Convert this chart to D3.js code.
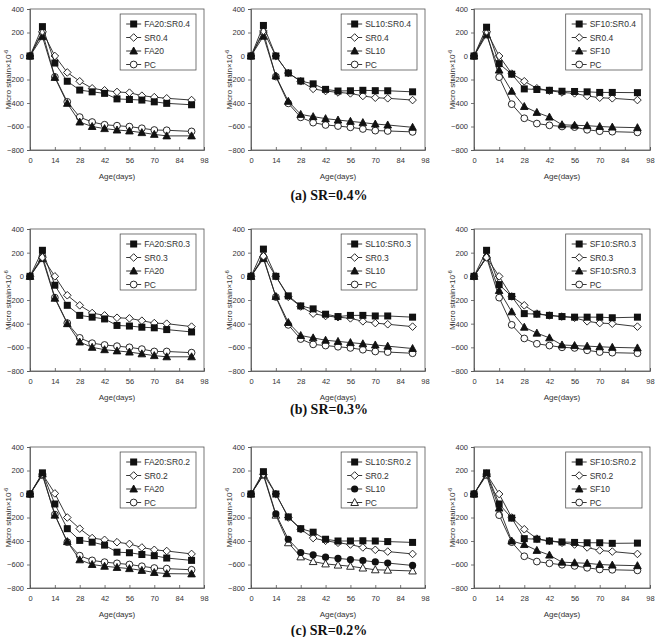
<!DOCTYPE html>
<html>
<head>
<meta charset="utf-8">
<script src="https://cdnjs.cloudflare.com/ajax/libs/d3/7.8.5/d3.min.js"></script>
<style>
  body { margin: 0; background: #fff; }
  text { font-family: "Liberation Sans", "DejaVu Sans", sans-serif; fill: #333; }
</style>
</head>
<body>
<div id="chart"></div>
<script>
// age in days (shared x values)
const ages = [0, 7, 14, 21, 28, 35, 42, 49, 56, 63, 70, 77, 91];
const xTicks = [0, 14, 28, 42, 56, 70, 84, 98];
const yTicks = [-800, -600, -400, -200, 0, 200, 400];

// (a) SR=0.4%
const p1Mix = [0, 250, -60, -215, -290, -305, -318, -365, -370, -375, -390, -403, -415];
const p1Fiber = [0, 210, 0, -140, -215, -275, -292, -306, -312, -338, -350, -360, -375];
const p1Admix = [0, 165, -182, -403, -562, -600, -618, -630, -638, -652, -667, -680, -680];
const p1Pc = [0, 200, -178, -390, -520, -562, -585, -593, -601, -615, -630, -632, -642];

const p2Mix = [0, 260, 0, -145, -213, -237, -284, -298, -296, -292, -295, -296, -305];
const p2Fiber = [0, 213, 0, -145, -215, -280, -298, -310, -318, -340, -355, -360, -375];
const p2Admix = [0, 168, -170, -386, -497, -516, -533, -545, -556, -567, -579, -587, -607];
const p2Pc = [0, 200, -175, -403, -522, -567, -587, -596, -607, -621, -635, -638, -646];

const p3Mix = [0, 245, -65, -155, -280, -285, -292, -300, -302, -305, -310, -310, -312];
const p3Fiber = [0, 210, 0, -150, -215, -275, -295, -310, -318, -340, -355, -360, -375];
const p3Admix = [0, 180, -120, -300, -430, -480, -520, -585, -590, -593, -600, -605, -610];
const p3Pc = [0, 200, -180, -410, -530, -575, -590, -600, -605, -628, -640, -644, -650];

// (b) SR=0.3%
const p4Mix = [0, 220, -75, -245, -330, -345, -360, -415, -420, -430, -435, -450, -470];
const p4Fiber = [0, 160, 0, -160, -245, -310, -330, -350, -355, -375, -395, -400, -425];
const p4Admix = [0, 150, -185, -400, -555, -600, -620, -630, -640, -655, -670, -680, -680];
const p4Pc = [0, 170, -180, -395, -520, -565, -580, -590, -600, -615, -635, -635, -645];

const p5Mix = [0, 230, 0, -165, -250, -275, -320, -340, -330, -330, -335, -335, -345];
const p5Fiber = [0, 170, 0, -173, -255, -315, -335, -345, -355, -380, -395, -405, -425];
const p5Admix = [0, 150, -170, -390, -500, -520, -540, -550, -560, -570, -580, -590, -610];
const p5Pc = [0, 160, -175, -410, -530, -575, -585, -595, -605, -620, -635, -640, -650];

const p6Mix = [0, 220, -70, -170, -315, -320, -330, -340, -345, -345, -345, -350, -345];
const p6Fiber = [0, 160, 0, -170, -245, -315, -331, -340, -350, -380, -395, -400, -425];
const p6Admix = [0, 170, -120, -300, -430, -480, -520, -580, -585, -590, -595, -600, -605];
const p6Pc = [0, 160, -180, -410, -525, -570, -585, -600, -605, -625, -640, -645, -650];

// (c) SR=0.2%
const p7Mix = [0, 180, -85, -295, -395, -410, -435, -495, -500, -515, -525, -545, -565];
const p7Fiber = [0, 170, 5, -200, -295, -375, -390, -410, -425, -455, -475, -485, -510];
const p7Admix = [0, 170, -180, -405, -560, -600, -615, -625, -635, -650, -668, -678, -680];
const p7Pc = [0, 160, -175, -410, -525, -565, -580, -590, -600, -615, -630, -635, -645];

const p8Mix = [0, 190, 0, -195, -295, -325, -385, -400, -400, -398, -400, -405, -412];
const p8Fiber = [0, 168, 0, -200, -300, -375, -398, -415, -430, -455, -475, -490, -510];
const p8Admix = [0, 170, -170, -385, -498, -518, -538, -548, -558, -566, -578, -588, -608];
const p8Pc = [0, 160, -180, -415, -535, -575, -595, -605, -615, -630, -645, -648, -655];

const p9Mix = [0, 180, -85, -205, -380, -385, -400, -408, -412, -415, -415, -420, -418];
const p9Fiber = [0, 170, 0, -200, -300, -380, -400, -415, -430, -455, -480, -490, -510];
const p9Admix = [0, 172, -120, -400, -430, -480, -520, -580, -585, -590, -600, -605, -610];
const p9Pc = [0, 160, -180, -410, -530, -575, -590, -602, -612, -628, -642, -645, -650];

// legend labels per panel
const labels1 = ["FA20:SR0.4", "SR0.4", "FA20", "PC"];
const labels2 = ["SL10:SR0.4", "SR0.4", "SL10", "PC"];
const labels3 = ["SF10:SR0.4", "SR0.4", "SF10", "PC"];
const labels4 = ["FA20:SR0.3", "SR0.3", "FA20", "PC"];
const labels5 = ["SL10:SR0.3", "SR0.3", "SL10", "PC"];
const labels6 = ["SF10:SR0.3", "SR0.3", "SF10:SR0.3", "PC"];
const labels7 = ["FA20:SR0.2", "SR0.2", "FA20", "PC"];
const labels8 = ["SL10:SR0.2", "SR0.2", "SL10", "PC"];
const labels9 = ["SF10:SR0.2", "SR0.2", "SF10", "PC"];

const captions = ["(a)  SR=0.4%", "(b)  SR=0.3%", "(c)  SR=0.2%"];

const svgWidth = 657;
const svgHeight = 637;

// plot area layout
const colLeft = [30, 251, 474];
const colRight = [204, 425, 650];
const rowTop = [9, 229, 447];
const rowBottom = [150, 371, 588];
const captionY = [200, 414, 635];

const defaultShapes = ["square", "diamond", "triangle", "circle"];

const panels = [
    { row: 0, col: 0, labels: labels1, series: [p1Mix, p1Fiber, p1Admix, p1Pc], shapes: defaultShapes },
    { row: 0, col: 1, labels: labels2, series: [p2Mix, p2Fiber, p2Admix, p2Pc], shapes: defaultShapes },
    { row: 0, col: 2, labels: labels3, series: [p3Mix, p3Fiber, p3Admix, p3Pc], shapes: defaultShapes },
    { row: 1, col: 0, labels: labels4, series: [p4Mix, p4Fiber, p4Admix, p4Pc], shapes: defaultShapes },
    { row: 1, col: 1, labels: labels5, series: [p5Mix, p5Fiber, p5Admix, p5Pc], shapes: defaultShapes },
    { row: 1, col: 2, labels: labels6, series: [p6Mix, p6Fiber, p6Admix, p6Pc], shapes: defaultShapes },
    { row: 2, col: 0, labels: labels7, series: [p7Mix, p7Fiber, p7Admix, p7Pc], shapes: defaultShapes },
    { row: 2, col: 1, labels: labels8, series: [p8Mix, p8Fiber, p8Admix, p8Pc], shapes: ["square", "diamond", "dot", "otriangle"] },
    { row: 2, col: 2, labels: labels9, series: [p9Mix, p9Fiber, p9Admix, p9Pc], shapes: defaultShapes }
];

var svg = d3.select("#chart")
    .append("svg")
    .attr("width", svgWidth)
    .attr("height", svgHeight)
    .style("background", "#fff");

// draw one marker at (x, y)
function drawMarker(g, shape, x, y) {
    var stroke = "#111";
    if (shape === "square") {
        g.append("rect").attr("x", x - 3.5).attr("y", y - 3.5)
            .attr("width", 7).attr("height", 7).attr("fill", stroke);
    } else if (shape === "diamond") {
        g.append("path").attr("d", `M${x},${y - 3.8}L${x + 3.8},${y}L${x},${y + 3.8}L${x - 3.8},${y}Z`)
            .attr("fill", "#fff").attr("stroke", stroke).attr("stroke-width", 0.9);
    } else if (shape === "triangle" || shape === "otriangle") {
        g.append("path").attr("d", `M${x},${y - 4}L${x + 3.8},${y + 3}L${x - 3.8},${y + 3}Z`)
            .attr("fill", shape === "triangle" ? stroke : "#fff")
            .attr("stroke", stroke).attr("stroke-width", 0.9);
    } else if (shape === "circle") {
        g.append("circle").attr("cx", x).attr("cy", y).attr("r", 3.4)
            .attr("fill", "#fff").attr("stroke", stroke).attr("stroke-width", 0.9);
    } else if (shape === "dot") {
        g.append("circle").attr("cx", x).attr("cy", y).attr("r", 3.6).attr("fill", stroke);
    }
}

panels.forEach(function(p) {
    var left = colLeft[p.col], right = colRight[p.col];
    var top = rowTop[p.row], bottom = rowBottom[p.row];

    var xScale = d3.scaleLinear().domain([0, 98]).range([left, right]);
    var yScale = d3.scaleLinear().domain([-800, 400]).range([bottom, top]);

    var g = svg.append("g");

    // plot frame
    g.append("rect")
        .attr("x", left).attr("y", top)
        .attr("width", right - left).attr("height", bottom - top)
        .attr("fill", "none").attr("stroke", "#555").attr("stroke-width", 0.8);

    // axes
    var xAxis = g.append("g")
        .attr("transform", `translate(0, ${bottom})`)
        .call(d3.axisBottom(xScale).tickValues(xTicks).tickSize(-3).tickPadding(8));
    var yAxis = g.append("g")
        .attr("transform", `translate(${left}, 0)`)
        .call(d3.axisLeft(yScale).tickValues(yTicks).tickSize(3).tickPadding(3));

    [xAxis, yAxis].forEach(function(ax) {
        ax.select(".domain").attr("stroke", "#555").attr("stroke-width", 0.8);
        ax.selectAll(".tick line").attr("stroke", "#555").attr("stroke-width", 0.8);
        ax.selectAll(".tick text")
            .attr("fill", "#333")
            .style("font-size", "7.5px")
            .style("font-family", "'Liberation Sans', sans-serif");
    });

    // axis titles
    g.append("text")
        .attr("x", (left + right) / 2)
        .attr("y", bottom + 29)
        .attr("text-anchor", "middle")
        .style("font-size", "8px")
        .text("Age(days)");

    var yt = g.append("text")
        .attr("transform", `translate(${left - 19}, ${(top + bottom) / 2}) rotate(-90)`)
        .attr("text-anchor", "middle")
        .style("font-size", "8px")
        .text("Micro strain×10");
    yt.append("tspan").attr("dy", -3).style("font-size", "5.5px").text("-6");

    // lines + markers, drawn so the first series ends up on top
    var line = d3.line()
        .x((d, i) => xScale(ages[i]))
        .y(d => yScale(d));

    for (var s = p.series.length - 1; s >= 0; s--) {
        var data = p.series[s];
        g.append("path")
            .attr("d", line(data))
            .attr("fill", "none")
            .attr("stroke", "#222")
            .attr("stroke-width", 0.9);
        data.forEach(function(v, i) {
            drawMarker(g, p.shapes[s], xScale(ages[i]), yScale(v));
        });
    }

    // legend
    var lg = g.append("g");
    var texts = [];
    p.labels.forEach(function(lab, i) {
        texts.push(lg.append("text")
            .attr("y", i * 13.5 + 3)
            .style("font-size", "8.5px")
            .text(lab));
    });
    var maxW = d3.max(texts, t => t.node().getComputedTextLength());
    var boxW = 24 + maxW + 6;
    var boxH = 56;
    var bx = right - 8 - boxW, by = top + 5;
    lg.attr("transform", `translate(${bx}, ${by + 10})`);
    lg.insert("rect", ":first-child")
        .attr("x", 0).attr("y", -10)
        .attr("width", boxW).attr("height", boxH)
        .attr("fill", "#fff").attr("stroke", "#555").attr("stroke-width", 0.8);
    texts.forEach(function(t) { t.attr("x", 24); });
    p.labels.forEach(function(lab, i) {
        lg.append("line")
            .attr("x1", 6).attr("x2", 21)
            .attr("y1", i * 13.5).attr("y2", i * 13.5)
            .attr("stroke", "#222").attr("stroke-width", 0.9);
        drawMarker(lg, p.shapes[i], 13.5, i * 13.5);
    });
});

// row captions
captions.forEach(function(c, i) {
    svg.append("text")
        .attr("x", 329)
        .attr("y", captionY[i])
        .attr("text-anchor", "middle")
        .style("font-family", "'Liberation Serif', 'DejaVu Serif', serif")
        .style("font-weight", "bold")
        .style("font-size", "14px")
        .style("fill", "#111")
        .text(c);
});
</script>
</body>
</html>
